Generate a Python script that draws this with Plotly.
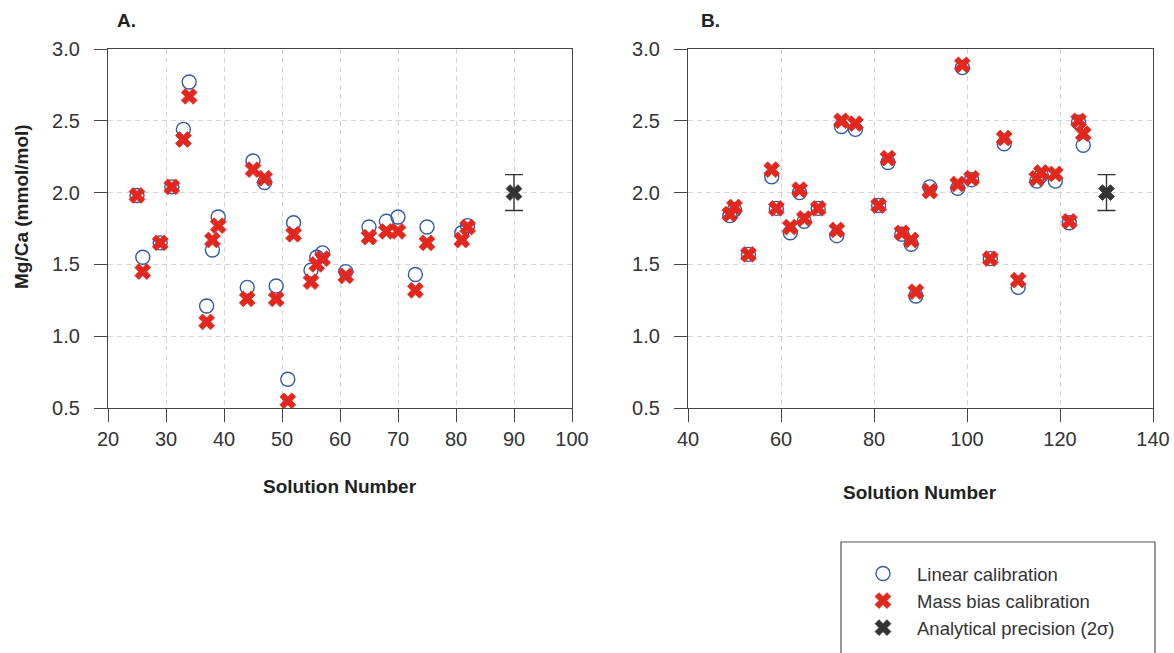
import plotly.graph_objects as go

# ---- Panel A data ----
a_solution = [25, 26, 29, 31, 33, 34, 37, 38, 39, 44, 45, 47, 49, 51, 52,
              55, 56, 57, 61, 65, 68, 70, 73, 75, 81, 82]
a_linear = [1.98, 1.55, 1.65, 2.04, 2.44, 2.77, 1.21, 1.60, 1.83, 1.34, 2.22, 2.07, 1.35, 0.70, 1.79,
            1.46, 1.55, 1.58, 1.45, 1.76, 1.80, 1.83, 1.43, 1.76, 1.72, 1.77]
a_massbias = [1.98, 1.45, 1.65, 2.04, 2.37, 2.67, 1.10, 1.67, 1.77, 1.26, 2.16, 2.10, 1.26, 0.55, 1.71,
              1.38, 1.50, 1.54, 1.42, 1.69, 1.73, 1.73, 1.32, 1.65, 1.67, 1.76]

# ---- Panel B data ----
b_solution = [49, 50, 53, 58, 59, 62, 64, 65, 68, 72, 73, 76, 81, 83, 86,
              88, 89, 92, 98, 99, 101, 105, 108, 111, 115, 116, 119, 122, 124, 125]
b_linear = [1.84, 1.88, 1.57, 2.11, 1.89, 1.72, 2.00, 1.80, 1.89, 1.70, 2.46, 2.44, 1.91, 2.21, 1.71,
            1.64, 1.28, 2.04, 2.03, 2.87, 2.09, 1.54, 2.34, 1.34, 2.08, 2.12, 2.08, 1.79, 2.49, 2.33]
b_massbias = [1.85, 1.90, 1.57, 2.16, 1.89, 1.76, 2.02, 1.82, 1.89, 1.74, 2.50, 2.48, 1.91, 2.24, 1.72,
              1.67, 1.31, 2.01, 2.06, 2.89, 2.10, 1.54, 2.38, 1.39, 2.10, 2.14, 2.13, 1.80, 2.50, 2.41]

# ---- Analytical precision (2 sigma) ----
precision_x = {"A": 90, "B": 130}
precision_y = 2.0
precision_2sd = 0.125

x_ticks_a = [20, 30, 40, 50, 60, 70, 80, 90, 100]
x_ticks_b = [40, 60, 80, 100, 120, 140]
y_ticks = [0.5, 1.0, 1.5, 2.0, 2.5, 3.0]

W, H = 1174, 653
FONT = "Liberation Sans, Arial, Helvetica, sans-serif"
BLUE = "#2f5aa8"
RED = "#e2281e"
DARK = "#333333"


def px(x):
    return x / W


def py(y):
    return 1 - y / H


fig = go.Figure()

panels = [
    ("x", "y", a_solution, a_linear, a_massbias, precision_x["A"], True),
    ("x2", "y2", b_solution, b_linear, b_massbias, precision_x["B"], False),
]
for xa, ya, sol, lin, mb, px_pos, show in panels:
    fig.add_trace(go.Scatter(
        x=sol, y=lin, mode="markers", name="Linear calibration",
        xaxis=xa, yaxis=ya, showlegend=show,
        marker=dict(symbol="circle-open", size=14, color=BLUE, line=dict(width=1.4, color=BLUE)),
    ))
    fig.add_trace(go.Scatter(
        x=sol, y=mb, mode="markers", name="Mass bias calibration",
        xaxis=xa, yaxis=ya, showlegend=show,
        marker=dict(symbol="x", size=14, color=RED, line=dict(width=0.8, color=RED)),
    ))
    fig.add_trace(go.Scatter(
        x=[px_pos], y=[precision_y], mode="markers", name="Analytical precision (2σ)",
        xaxis=xa, yaxis=ya, showlegend=show,
        marker=dict(symbol="x", size=14, color=DARK, line=dict(width=0.8, color=DARK)),
        error_y=dict(type="data", array=[precision_2sd], color=DARK, thickness=1.4, width=9),
    ))

axis_common = dict(
    showline=True, linecolor="#444444", linewidth=1.3, mirror=True,
    ticks="outside", ticklen=13, tickwidth=1.2, tickcolor="#444444",
    showgrid=True, gridcolor="#d4d4d4", gridwidth=1, griddash="5px,4px",
    zeroline=False, automargin=False,
    tickfont=dict(family=FONT, size=20, color=DARK),
)

y_top, y_bot = 49, 408
fig.update_layout(
    width=W, height=H,
    margin=dict(l=0, r=0, t=0, b=0, autoexpand=False),
    paper_bgcolor="white", plot_bgcolor="white",
    font=dict(family=FONT, color="#222222"),
    xaxis=dict(domain=[px(108), px(572)], range=[20, 100], tickvals=x_ticks_a,
               anchor="y", **axis_common),
    yaxis=dict(domain=[py(y_bot), py(y_top)], range=[0.5, 3.0], tickvals=y_ticks,
               tickformat=".1f", ticklabelstandoff=10, anchor="x", **axis_common),
    xaxis2=dict(domain=[px(688), px(1153)], range=[40, 140], tickvals=x_ticks_b,
                anchor="y2", **axis_common),
    yaxis2=dict(domain=[py(y_bot), py(y_top)], range=[0.5, 3.0], tickvals=y_ticks,
                tickformat=".1f", ticklabelstandoff=10, anchor="x2", **axis_common),
    legend=dict(
        x=px(849), y=py(555), xanchor="left", yanchor="top",
        bgcolor="rgba(0,0,0,0)", borderwidth=0, itemwidth=58,
        font=dict(family=FONT, size=18.5, color=DARK),
    ),
    showlegend=True,
)

# Legend frame (runs off the bottom edge of the page)
fig.add_shape(type="rect", xref="paper", yref="paper",
              x0=px(841), x1=px(1155), y0=py(720), y1=py(542),
              line=dict(color="#555555", width=1.2), fillcolor="rgba(0,0,0,0)")

annotations = [
    dict(text="<b>A.</b>", x=px(126), y=py(20)),
    dict(text="<b>B.</b>", x=px(710), y=py(20)),
    dict(text="<b>Solution Number</b>", x=px(340), y=py(486)),
    dict(text="<b>Solution Number</b>", x=px(920), y=py(492)),
    dict(text="<b>Mg/Ca (mmol/mol)</b>", x=px(22), y=py(207), textangle=-90),
]
for a in annotations:
    fig.add_annotation(xref="paper", yref="paper", showarrow=False,
                       xanchor="center", yanchor="middle",
                       font=dict(family=FONT, size=19, color="#222222"), **a)

fig.write_html("out.html")
